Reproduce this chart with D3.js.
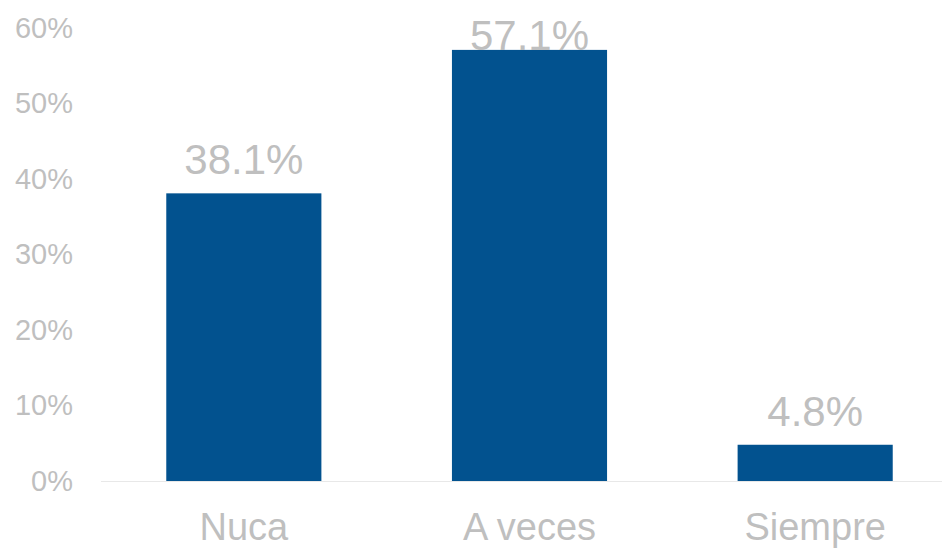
<!DOCTYPE html>
<html>
<head>
<meta charset="utf-8">
<script src="https://cdn.jsdelivr.net/npm/d3@7"></script>
<style>
  html, body { margin: 0; padding: 0; background: #fff; }
  svg { display: block; font-family: "Liberation Sans", Arial, sans-serif; }
</style>
</head>
<body>
<svg id="chart" width="942" height="548"></svg>
<script>
const categories = ["Nuca", "A veces", "Siempre"];
const values = [38.1, 57.1, 4.8];
const yTicks = [0, 10, 20, 30, 40, 50, 60];

const svg = d3.select("#chart");
const textColor = "#BFBFBF";
const barColor = "#02528F";

const x = d3.scaleBand()
  .domain(categories)
  .range([101, 958])
  .paddingInner(0.457)
  .paddingOuter(0.2285);

const y = d3.scaleLinear()
  .domain([0, 60])
  .range([481, 28]);

// Y axis labels
const yAxis = d3.axisLeft(y)
  .tickValues(yTicks)
  .tickFormat(d => d + "%")
  .tickSize(0)
  .tickPadding(0);

const gy = svg.append("g")
  .attr("transform", "translate(73,0)")
  .call(yAxis);
gy.select(".domain").remove();
gy.selectAll("text")
  .attr("fill", textColor)
  .attr("font-size", 29)
  .attr("font-family", "Liberation Sans, Arial, sans-serif")
  .attr("dy", "0.32em");

// baseline axis line
svg.append("line")
  .attr("x1", x.range()[0])
  .attr("x2", 942)
  .attr("y1", y(0) + 0.5)
  .attr("y2", y(0) + 0.5)
  .attr("stroke", "#E8E8E8")
  .attr("stroke-width", 1);

// bars
svg.selectAll("rect.bar")
  .data(values)
  .enter().append("rect")
  .attr("class", "bar")
  .attr("x", (d, i) => x(categories[i]))
  .attr("width", x.bandwidth())
  .attr("y", d => y(d))
  .attr("height", d => y(0) - y(d))
  .attr("fill", barColor);

// value labels
svg.selectAll("text.val")
  .data(values)
  .enter().append("text")
  .attr("class", "val")
  .attr("x", (d, i) => x(categories[i]) + x.bandwidth() / 2)
  .attr("y", d => Math.max(y(d) - 19, 50))
  .attr("text-anchor", "middle")
  .attr("font-size", 42)
  .attr("fill", textColor)
  .text(d => d.toFixed(1) + "%");

// category labels
const xAxis = d3.axisBottom(x).tickSize(0).tickPadding(0);
const gx = svg.append("g")
  .attr("transform", "translate(0,0)")
  .call(xAxis);
gx.select(".domain").remove();
gx.selectAll("text")
  .attr("fill", textColor)
  .attr("font-size", 38)
  .attr("font-family", "Liberation Sans, Arial, sans-serif")
  .attr("y", 540)
  .attr("dy", 0);
</script>
</body>
</html>
